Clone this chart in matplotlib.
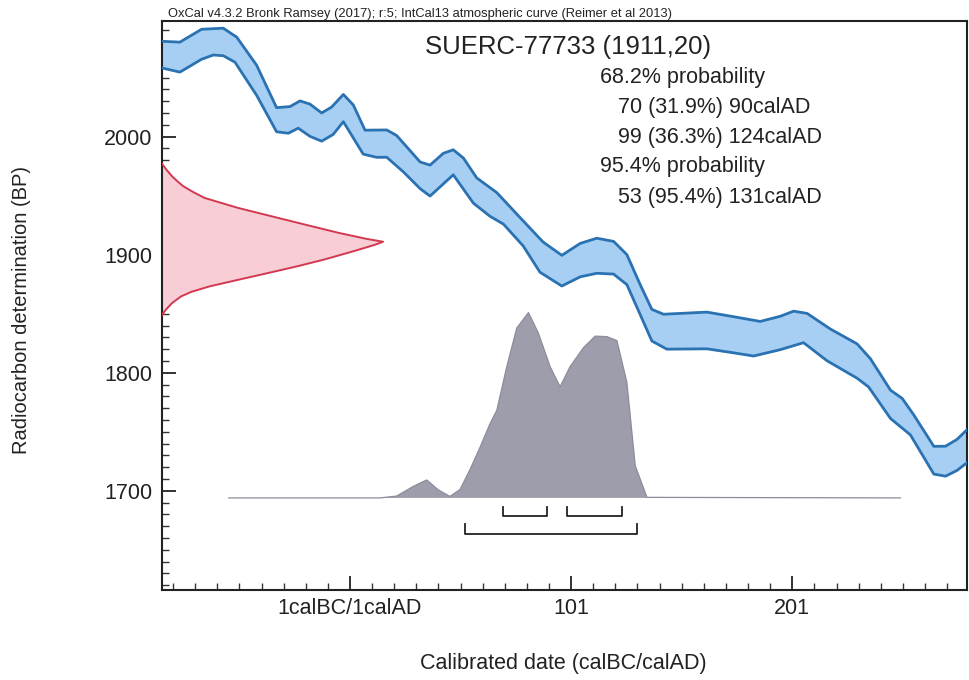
import numpy as np
import matplotlib
matplotlib.use("Agg")
import matplotlib.pyplot as plt
from matplotlib.ticker import FixedLocator

plt.rcParams['font.family'] = ['Liberation Sans', 'DejaVu Sans']

# ---------------- data ----------------
# IntCal13 calibration curve band (upper / lower edges)
upper_year = [-84, -75.9, -66.1, -56.3, -50.2, -41.2, -32.2, -26.1, -21.6, -17.1,
              -11.8, -7.3, -2.0, 2.5, 7.8, 17.6, 22.1, 32.7, 37.2, 43.2,
              47.7, 52.3, 58.3, 67.4, 76.4, 88.3, 96.8, 105.1, 112.6, 120.2,
              126.2, 132.2, 137.5, 142.8, 162.4, 174.5, 186.5, 195.6, 201.6, 207.7,
              218.2, 230.3, 236.3, 245.4, 250.7, 255.9, 265.0, 270.3, 275.5, 281.0]
upper_bp = [2080.8, 2080.1, 2091.0, 2091.9, 2084.3, 2060.5, 2024.6, 2025.5, 2030.3, 2027.6,
            2020.1, 2025.1, 2035.8, 2026.9, 2005.5, 2005.7, 2001.0, 1978.6, 1975.9, 1985.9,
            1988.9, 1981.9, 1965.1, 1952.6, 1934.5, 1910.8, 1899.5, 1909.6, 1914.0, 1911.3,
            1900.1, 1874.8, 1853.7, 1849.6, 1851.4, 1847.5, 1843.5, 1847.9, 1852.2, 1850.3,
            1837.1, 1824.5, 1812.0, 1785.3, 1778.3, 1764.4, 1737.7, 1737.8, 1743.6, 1753.6]

lower_year = [-84, -75.9, -66.1, -60.8, -56.3, -51.0, -41.2, -32.2, -26.9, -22.4,
              -17.1, -11.8, -6.6, -2.0, 7.0, 13.1, 17.6, 25.2, 32.7, 37.2,
              47.7, 56.8, 64.3, 70.4, 79.3, 86.9, 96.8, 105.1, 112.6, 120.2,
              126.2, 132.2, 137.5, 144.3, 162.4, 174.5, 183.5, 195.6, 206.1, 216.7,
              230.3, 235.5, 245.4, 254.4, 265.0, 270.3, 275.5, 281.0]
lower_bp = [2058.2, 2054.7, 2065.6, 2069.2, 2068.6, 2063.1, 2035.0, 2004.2, 2002.9, 2007.2,
            2000.3, 1996.2, 2001.9, 2012.7, 1985.2, 1982.5, 1982.6, 1970.1, 1956.0, 1949.7,
            1967.7, 1943.7, 1932.6, 1925.9, 1907.5, 1885.2, 1873.5, 1881.3, 1884.3, 1883.6,
            1874.7, 1849.4, 1826.9, 1820.0, 1820.3, 1816.9, 1814.2, 1819.6, 1825.5, 1810.2,
            1795.4, 1788.0, 1761.3, 1747.4, 1714.2, 1712.4, 1717.3, 1725.3]

# radiocarbon measurement distribution (1911 +/- 20 BP), relative density
meas_bp = [1977.0, 1972.0, 1966.4, 1962.0, 1958.0, 1953.0, 1948.1, 1939.6, 1932.5, 1925.4,
           1918.4, 1913.5, 1911.0, 1908.5, 1902.8, 1895.8, 1890.1, 1884.4, 1878.8,
           1873.1, 1868.5, 1864.7, 1859.1, 1854.0, 1849.2]
meas_density = [0.0, 0.02, 0.045, 0.07, 0.095, 0.14, 0.19, 0.34, 0.49, 0.64,
                0.79, 0.91, 0.985, 0.95, 0.85, 0.72, 0.60, 0.47, 0.34,
                0.21, 0.13, 0.085, 0.045, 0.02, 0.0]

# calibrated date probability, relative
cal_year = [-53.8, 14.6, 22.1, 29.6, 35.7, 41.0, 46.2, 50.8, 55.3, 59.8,
            64.3, 67.4, 71.9, 76.4, 81.7, 86.2, 91.5, 96.0, 100.5, 106.6,
            111.9, 117.2, 121.7, 126.2, 130.0, 135.3, 249.9]
cal_prob = [0.0, 0.0, 0.01, 0.062, 0.097, 0.043, 0.008, 0.046, 0.154, 0.273,
            0.40, 0.473, 0.708, 0.916, 1.0, 0.889, 0.708, 0.60, 0.708, 0.811,
            0.873, 0.870, 0.849, 0.624, 0.173, 0.003, 0.0]

ranges_68 = [(70, 90), (99, 124)]
ranges_95 = [(53, 131)]

header = "OxCal v4.3.2 Bronk Ramsey (2017); r:5; IntCal13 atmospheric curve (Reimer et al 2013)"
sample_label = "SUERC-77733 (1911,20)"
result_lines = ["68.2% probability", "70 (31.9%) 90calAD", "99 (36.3%) 124calAD",
                "95.4% probability", "53 (95.4%) 131calAD"]

x_tick_pos = [1, 101, 201]
x_tick_labels = ["1calBC/1calAD", "101", "201"]
y_tick_pos = [1700, 1800, 1900, 2000]

# ---------------- drawing ----------------
W, H = 969, 680
fig = plt.figure(figsize=(W / 100, H / 100), dpi=100)
ax = fig.add_axes([162 / W, 1 - 590 / H, 805 / W, 569 / H])
xmin, xmax = -84, 280
ymin, ymax = 1616, 2098
ax.set_xlim(xmin, xmax)
ax.set_ylim(ymin, ymax)

band_fill = '#a6cff3'
band_edge = '#2a72b2'
poly_x = list(upper_year) + list(lower_year[::-1])
poly_y = list(upper_bp) + list(lower_bp[::-1])
ax.fill(poly_x, poly_y, facecolor=band_fill, edgecolor='none', zorder=2)
ax.plot(upper_year, upper_bp, color=band_edge, lw=2.0, zorder=3, solid_joinstyle='round')
ax.plot(lower_year, lower_bp, color=band_edge, lw=2.0, zorder=3, solid_joinstyle='round')

# measurement distribution on the y axis
meas_width = 101.5
mx = xmin + np.array(meas_density) * meas_width
ax.fill_betweenx(meas_bp, xmin, mx, facecolor='#f8cdd5', edgecolor='none', zorder=2)
ax.plot(mx, meas_bp, color='#d2394f', lw=1.4, zorder=3, solid_joinstyle='round')

# calibrated distribution
base = 1694
cal_height = 157
cy = base + np.array(cal_prob) * cal_height
ax.fill_between(cal_year, base, cy, facecolor='#9d9dab', edgecolor='none', zorder=2)
ax.plot(cal_year, cy, color='#8c8c9a', lw=0.9, zorder=3)

# range brackets
for (a, b) in ranges_68:
    ax.plot([a, a, b, b], [1686, 1678.5, 1678.5, 1686], color='#222222', lw=1.3, zorder=3)
for (a, b) in ranges_95:
    ax.plot([a, a, b, b], [1672, 1663.5, 1663.5, 1672], color='#222222', lw=1.3, zorder=3)

# ticks
ax.xaxis.set_major_locator(FixedLocator(x_tick_pos))
ax.set_xticklabels(x_tick_labels)
ax.xaxis.set_minor_locator(FixedLocator([v for v in range(-79, 280, 10) if v not in x_tick_pos]))
ax.yaxis.set_major_locator(FixedLocator(y_tick_pos))
ax.set_yticklabels([str(v) for v in y_tick_pos])
ax.yaxis.set_minor_locator(FixedLocator([v for v in range(1620, 2098, 10) if v not in y_tick_pos]))
ax.tick_params(which='major', direction='in', length=10, width=1.3, labelsize=15.5,
               color='#222222', labelcolor='#222222')
ax.tick_params(axis='x', which='major', pad=6)
ax.tick_params(axis='y', which='major', pad=7)
ax.tick_params(which='minor', direction='in', length=5, width=1.0, color='#333333')
for s in ax.spines.values():
    s.set_linewidth(1.5)
    s.set_color('#222222')

# texts
ax.text(0.008, 1.002, header, transform=ax.transAxes, ha='left', va='bottom',
        fontsize=9.3, color='#222222')
ax.text(0.327, 0.954, sample_label, transform=ax.transAxes, ha='left', va='center',
        fontsize=18.5, color='#222222')
line_pos = [(0.544, 0.901), (0.566, 0.848), (0.566, 0.796), (0.544, 0.745), (0.566, 0.690)]
for (tx, ty), s in zip(line_pos, result_lines):
    ax.text(tx, ty, s, transform=ax.transAxes, ha='left', va='center',
            fontsize=15.5, color='#222222')

fig.text(22 / W, 1 - 310 / H, "Radiocarbon determination (BP)", rotation=90,
         ha='center', va='center', fontsize=14.5, color='#222222')
fig.text(563 / W, 1 - 664 / H, "Calibrated date (calBC/calAD)",
         ha='center', va='center', fontsize=15.5, color='#222222')

fig.savefig("out.png", dpi=100)
